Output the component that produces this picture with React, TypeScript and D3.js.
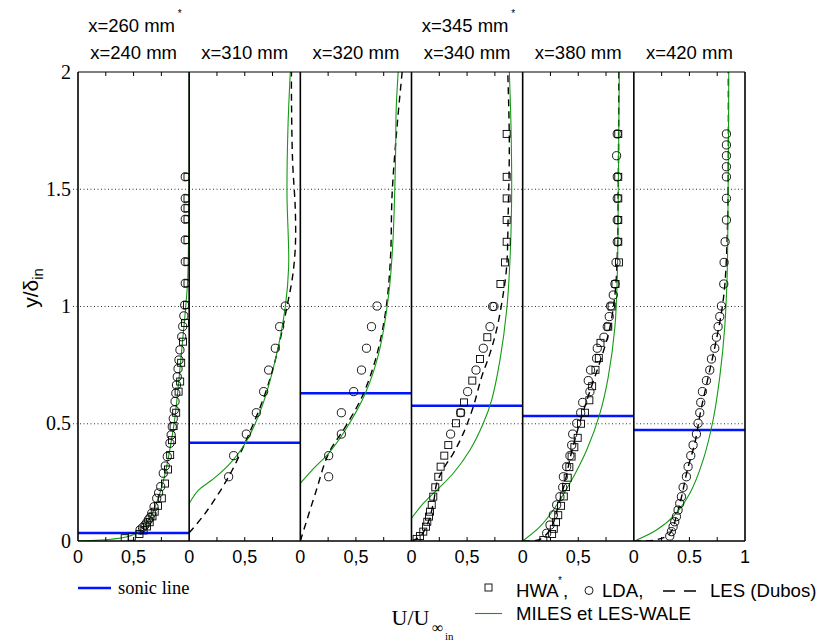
import React from "react";
import * as d3 from "d3";

// ---------- data ----------
const panelTitles = ["x=240 mm", "x=310 mm", "x=320 mm", "x=340 mm", "x=380 mm", "x=420 mm"];
const upperTitlePanels = [0, 3];
const upperTitles = ["x=260 mm", "x=345 mm"];
const yTicks = [0, 0.5, 1, 1.5, 2];
const yTickLabels = ["0", "0.5", "1", "1.5", "2"];
const gridValues = [0.5, 1, 1.5];
const minorTicks = [0.25, 0.5, 0.75];
const xTickValues = [0, 0.5];
const xTickLabels = ["0", "0,5"];
const lastXTickValues = [0, 0.5, 1];
const lastXTickLabels = ["0", "0.5", "1"];

// sonic line height (y/δin) per panel
const sonicLine = [0.034, 0.419, 0.63, 0.577, 0.533, 0.473];

type P = [number, number]; // [U/Uinf, y/delta]

// x = 240 mm
const lda240: P[] = [[0.965,1.553],[0.965,1.461],[0.965,1.419],[0.965,1.372],[0.965,1.284],[0.965,1.191],[0.965,1.099],[0.96,1.006],[0.952,0.96],[0.942,0.915],[0.933,0.871],[0.917,0.815],[0.908,0.772],[0.9,0.735],[0.893,0.70],[0.886,0.665],[0.88,0.63],[0.873,0.595],[0.866,0.559],[0.857,0.522],[0.848,0.487],[0.838,0.452],[0.827,0.417],[0.803,0.36],[0.785,0.32],[0.767,0.289],[0.744,0.232],[0.725,0.205],[0.708,0.182],[0.684,0.146],[0.663,0.118],[0.648,0.1],[0.633,0.09],[0.618,0.078],[0.603,0.068],[0.58,0.057],[0.558,0.047]];
const hwa240: P[] = [[0.985,1.553],[0.985,1.461],[0.985,1.419],[0.985,1.372],[0.985,1.284],[0.985,1.191],[0.985,1.099],[0.98,1.006],[0.962,0.93],[0.945,0.85],[0.928,0.76],[0.919,0.68],[0.905,0.637],[0.883,0.547],[0.86,0.49],[0.845,0.43],[0.829,0.367],[0.81,0.305],[0.783,0.245],[0.754,0.182],[0.72,0.15],[0.69,0.125],[0.67,0.105],[0.645,0.08],[0.62,0.062],[0.59,0.045],[0.553,0.03],[0.484,0.018],[0.42,0.012]];
const miles240: P[] = [[0,0],[0.2,0.004],[0.4,0.014],[0.5,0.028],[0.58,0.055],[0.65,0.1],[0.72,0.18],[0.78,0.28],[0.83,0.4],[0.87,0.52],[0.9,0.65],[0.93,0.8],[0.96,0.95],[0.985,1.1],[0.995,1.3],[1,1.6],[1,2]];

// x = 310 mm
const lda310: P[] = [[0.865,1.002],[0.814,0.914],[0.775,0.822],[0.715,0.729],[0.67,0.637],[0.604,0.547],[0.514,0.456],[0.40,0.364],[0.355,0.274]];
const les310: P[] = [[0,0.035],[0.144,0.118],[0.355,0.274],[0.534,0.452],[0.685,0.63],[0.79,0.80],[0.88,1.0],[0.93,1.127],[0.955,1.255],[0.955,1.41],[0.93,1.625],[0.92,1.91],[0.92,2]];
const miles310: P[] = [[0,0.16],[0.084,0.217],[0.204,0.26],[0.354,0.324],[0.505,0.417],[0.655,0.573],[0.775,0.772],[0.865,1.0],[0.895,1.17],[0.88,1.483],[0.889,1.767],[0.91,2]];

// x = 320 mm
const lda320: P[] = [[0.69,1.002],[0.64,0.914],[0.595,0.822],[0.55,0.729],[0.48,0.637],[0.369,0.547],[0.369,0.456],[0.255,0.364],[0.255,0.274]];
const les320: P[] = [[0,0],[0.135,0.203],[0.255,0.374],[0.405,0.487],[0.555,0.615],[0.675,0.772],[0.765,0.971],[0.81,1.198],[0.826,1.483],[0.87,1.767],[0.916,2]];
const miles320: P[] = [[0,0.246],[0.135,0.317],[0.255,0.374],[0.405,0.473],[0.585,0.63],[0.705,0.80],[0.796,1.056],[0.832,1.27],[0.856,1.625],[0.862,1.838],[0.88,2]];

// x = 340 mm (HWA at 345 mm)
const lda340: P[] = [[0.742,1.0],[0.73,1.0],[0.706,0.914],[0.646,0.822],[0.58,0.729],[0.505,0.637],[0.442,0.547],[0.352,0.456]];
const hwa340: P[] = [[0.856,1.736],[0.856,1.553],[0.856,1.461],[0.856,1.369],[0.856,1.276],[0.841,1.188],[0.80,1.096],[0.682,0.869],[0.616,0.776],[0.547,0.684],[0.472,0.591],[0.442,0.547],[0.40,0.502],[0.331,0.409],[0.295,0.364],[0.262,0.317],[0.241,0.274],[0.214,0.229],[0.196,0.189],[0.182,0.154],[0.166,0.125],[0.157,0.104],[0.142,0.082],[0.13,0.061],[0.106,0.04],[0.076,0.021],[0.046,0.009]];
const les340: P[] = [[0,0],[0.08,0.02],[0.15,0.08],[0.2,0.17],[0.227,0.246],[0.29,0.31],[0.376,0.374],[0.466,0.459],[0.556,0.573],[0.631,0.70],[0.706,0.80],[0.772,0.914],[0.826,1.056],[0.856,1.17],[0.87,1.4],[0.88,1.7],[0.866,2]];
const miles340: P[] = [[0,0.097],[0.106,0.16],[0.227,0.217],[0.376,0.289],[0.526,0.388],[0.646,0.502],[0.721,0.601],[0.796,0.772],[0.856,0.985],[0.886,1.198],[0.901,1.483],[0.895,1.767],[0.88,2]];

// x = 380 mm
const lda380: P[] = [[0.851,1.736],[0.845,1.643],[0.851,1.553],[0.851,1.461],[0.851,1.369],[0.851,1.276],[0.84,1.188],[0.83,1.096],[0.815,1.049],[0.791,1.002],[0.779,0.957],[0.761,0.914],[0.731,0.869],[0.671,0.822],[0.665,0.779],[0.611,0.729],[0.59,0.684],[0.605,0.637],[0.54,0.591],[0.522,0.547],[0.486,0.502],[0.45,0.456],[0.441,0.409],[0.425,0.364],[0.396,0.317],[0.366,0.274],[0.36,0.229],[0.335,0.189],[0.306,0.154],[0.276,0.111],[0.246,0.068],[0.216,0.033]];
const hwa380: P[] = [[0.86,1.736],[0.86,1.553],[0.86,1.461],[0.86,1.369],[0.86,1.276],[0.866,1.188],[0.835,1.096],[0.8,1.0],[0.77,0.914],[0.70,0.845],[0.685,0.78],[0.655,0.73],[0.625,0.66],[0.6,0.60],[0.56,0.547],[0.525,0.50],[0.495,0.44],[0.465,0.40],[0.44,0.36],[0.42,0.315],[0.405,0.27],[0.39,0.23],[0.37,0.19],[0.345,0.15],[0.32,0.11],[0.30,0.08],[0.28,0.052],[0.265,0.03],[0.186,0.004]];
const les380: P[] = [[0,0],[0.15,0.006],[0.25,0.05],[0.32,0.15],[0.38,0.25],[0.43,0.36],[0.48,0.45],[0.55,0.56],[0.62,0.66],[0.70,0.77],[0.78,0.9],[0.83,1.05],[0.85,1.2],[0.86,1.5],[0.865,2]];
const miles380: P[] = [[0,0],[0.156,0.061],[0.276,0.132],[0.425,0.246],[0.576,0.388],[0.695,0.544],[0.77,0.70],[0.83,0.914],[0.851,1.127],[0.86,1.48],[0.869,2]];

// x = 420 mm
const lda420: P[] = [[0.833,1.736],[0.833,1.689],[0.833,1.643],[0.833,1.596],[0.833,1.553],[0.833,1.461],[0.833,1.369],[0.821,1.276],[0.812,1.188],[0.809,1.096],[0.788,1.002],[0.773,0.957],[0.758,0.914],[0.743,0.869],[0.728,0.822],[0.698,0.776],[0.683,0.729],[0.653,0.684],[0.617,0.637],[0.602,0.591],[0.593,0.547],[0.578,0.502],[0.563,0.456],[0.533,0.409],[0.512,0.364],[0.488,0.317],[0.473,0.274],[0.443,0.229],[0.428,0.189],[0.413,0.16],[0.398,0.132],[0.383,0.104],[0.368,0.082],[0.353,0.061],[0.338,0.04],[0.323,0.021]];
const les420: P[] = [[0,0],[0.2,0.005],[0.32,0.03],[0.38,0.1],[0.43,0.19],[0.48,0.3],[0.55,0.42],[0.6,0.55],[0.66,0.68],[0.73,0.83],[0.79,0.98],[0.82,1.1],[0.84,1.3],[0.85,1.6],[0.85,2]];
const miles420: P[] = [[0.024,0.004],[0.204,0.047],[0.353,0.104],[0.503,0.203],[0.623,0.345],[0.713,0.516],[0.773,0.70],[0.818,0.914],[0.839,1.127],[0.848,1.48],[0.854,2]];

const ldaSets = [lda240, lda310, lda320, lda340, lda380, lda420];
const hwaSets: (P[] | null)[] = [hwa240, null, null, hwa340, hwa380, null];
const lesSets: (P[] | null)[] = [null, les310, les320, les340, les380, les420];
const milesSets = [miles240, miles310, miles320, miles340, miles380, miles420];

// ---------- chart ----------
const W = 820, H = 643;
const X0 = 78, X1 = 745, YT = 72, YB = 541;
const GREEN = "#139a13";
const SANS = "'Liberation Sans', Arial, sans-serif";
const SERIF = "'Liberation Serif', 'Times New Roman', serif";

export default function App() {
  const pw = (X1 - X0) / 6;
  const y = d3.scaleLinear().domain([0, 2]).range([YB, YT]);
  const xs = d3.range(6).map((i) =>
    d3.scaleLinear().domain([0, 1]).range([X0 + i * pw, X0 + (i + 1) * pw])
  );

  return (
    <svg width={W} height={H} style={{ position: "absolute", left: 0, top: 0, background: "#fff" }}>
      <defs>
        {xs.map((x, i) => (
          <clipPath id={`clip${i}`} key={i}>
            <rect x={x(0)} y={YT} width={pw} height={YB - YT} />
          </clipPath>
        ))}
      </defs>

      {/* grid */}
      {gridValues.map((g) => (
        <line key={g} x1={73} x2={X1} y1={y(g)} y2={y(g)} stroke="#333" strokeWidth={1} strokeDasharray="1,2.5" />
      ))}

      {xs.map((x, i) => {
        const line = d3
          .line<P>()
          .x((d) => x(d[0]))
          .y((d) => y(d[1]))
          .curve(d3.curveCatmullRom.alpha(0.5));
        const hwa = hwaSets[i];
        const les = lesSets[i];
        return (
          <g key={i}>
            <g clipPath={`url(#clip${i})`}>
              <line x1={x(0)} x2={x(1)} y1={y(sonicLine[i])} y2={y(sonicLine[i])} stroke="#0015ff" strokeWidth={2.5} />
              {les && <path d={line(les) || ""} fill="none" stroke="#000" strokeWidth={1.4} strokeDasharray="7,5" />}
              <path d={line(milesSets[i]) || ""} fill="none" stroke={GREEN} strokeWidth={1.1} />
              {hwa &&
                hwa.map((d, k) => (
                  <rect key={"s" + k} x={x(d[0]) - 3.5} y={y(d[1]) - 3.5} width={7} height={7} fill="none" stroke="#000" strokeWidth={0.9} />
                ))}
              {ldaSets[i].map((d, k) => (
                <circle key={"c" + k} cx={x(d[0])} cy={y(d[1])} r={4.1} fill="none" stroke="#000" strokeWidth={0.9} />
              ))}
            </g>
            {/* inward ticks */}
            {minorTicks.map((t) => (
              <g key={t}>
                <line x1={x(t)} x2={x(t)} y1={YT} y2={YT + 4} stroke="#000" strokeWidth={1} />
                <line x1={x(t)} x2={x(t)} y1={YB} y2={YB - 4} stroke="#000" strokeWidth={1} />
              </g>
            ))}
            {/* x tick labels */}
            {(i === 5 ? lastXTickValues : xTickValues).map((v, k) => (
              <text key={k} x={x(v)} y={563} fontFamily={SANS} fontSize={18} textAnchor="middle">
                {(i === 5 ? lastXTickLabels : xTickLabels)[k]}
              </text>
            ))}
            <text x={x(0.5)} y={59} fontFamily={SANS} fontSize={18.5} textAnchor="middle">
              {panelTitles[i]}
            </text>
          </g>
        );
      })}

      {/* frame */}
      <line x1={X0} x2={X1} y1={YT} y2={YT} stroke="#000" strokeWidth={1.2} />
      <line x1={X0} x2={X1} y1={YB} y2={YB} stroke="#000" strokeWidth={1.5} />
      {d3.range(7).map((i) => (
        <line key={i} x1={X0 + i * pw} x2={X0 + i * pw} y1={YT} y2={YB} stroke="#000" strokeWidth={1.6} />
      ))}

      {/* upper titles */}
      {upperTitles.map((t, k) => {
        const x = xs[upperTitlePanels[k]];
        return (
          <g key={k}>
            <text x={x(0.5) - 2} y={32} fontFamily={SANS} fontSize={18.5} textAnchor="middle">
              {t}
            </text>
            <text x={x(0.5) + 46} y={17} fontFamily={SANS} fontSize={10} textAnchor="middle">
              *
            </text>
          </g>
        );
      })}

      {/* y ticks */}
      {yTicks.map((v, k) => (
        <text key={v} x={71} y={y(v) + 6.5} fontFamily={SERIF} fontSize={20} textAnchor="end">
          {yTickLabels[k]}
        </text>
      ))}

      {/* y label */}
      <text transform={`translate(38,288) rotate(-90)`} fontFamily={SANS} fontSize={21} textAnchor="middle">
        y/δ<tspan fontSize={15} dy={5}>in</tspan>
      </text>

      {/* x label */}
      <text x={391.5} y={625} fontFamily={SERIF} fontSize={22}>
        U/U
      </text>
      <text x={432} y={633} fontFamily={SERIF} fontSize={16}>
        ∞
      </text>
      <text x={445} y={640} fontFamily={SERIF} fontSize={11}>
        in
      </text>

      {/* legend: sonic line */}
      <line x1={78} x2={111} y1={588} y2={588} stroke="#0015ff" strokeWidth={2.5} />
      <text x={118} y={594} fontFamily={SERIF} fontSize={18.5}>
        sonic line
      </text>

      {/* legend: markers */}
      <rect x={485} y={584} width={7} height={7} fill="none" stroke="#000" strokeWidth={0.9} />
      <text x={516} y={597} fontFamily={SANS} fontSize={18.6}>
        HWA
      </text>
      <text x={558} y={584} fontFamily={SANS} fontSize={10}>
        *
      </text>
      <text x={563} y={597} fontFamily={SANS} fontSize={18.6}>
        ,
      </text>
      <circle cx={589} cy={590.5} r={4} fill="none" stroke="#000" strokeWidth={0.9} />
      <text x={602} y={597} fontFamily={SANS} fontSize={18.6}>
        LDA,
      </text>
      <line x1={663} x2={696} y1={591} y2={591} stroke="#000" strokeWidth={1.4} strokeDasharray="12,9" />
      <text x={710} y={597} fontFamily={SANS} fontSize={18.6}>
        LES (Dubos)
      </text>
      <line x1={475} x2={502} y1={613.5} y2={613.5} stroke={GREEN} strokeWidth={1.1} />
      <text x={516} y={619.5} fontFamily={SANS} fontSize={18.6}>
        MILES et LES-WALE
      </text>
    </svg>
  );
}
